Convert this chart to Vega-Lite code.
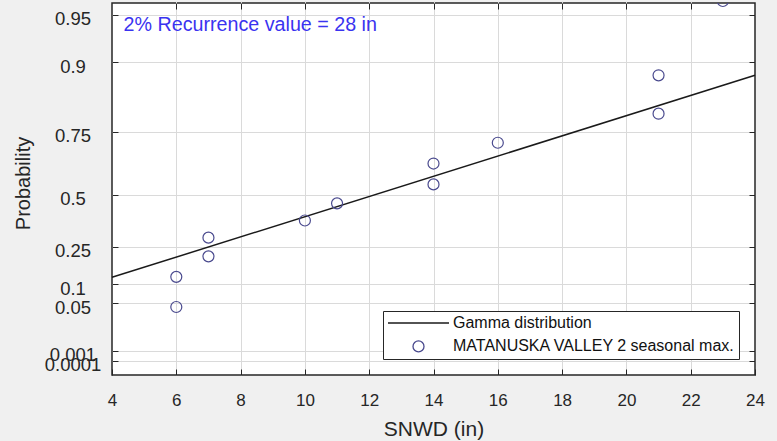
{
  "$schema": "https://vega.github.io/schema/vega-lite/v6.json",
  "width": 643,
  "height": 372,
  "autosize": {"type": "none"},
  "padding": {"left": 112, "top": 3, "right": 22, "bottom": 66},
  "background": "#f0f0f0",
  "config": {
    "view": {"fill": "white", "stroke": "#262626", "strokeWidth": 1.5},
    "font": "Liberation Sans",
    "axis": {
      "domain": false,
      "tickColor": "#262626",
      "tickSize": -6,
      "tickWidth": 1,
      "gridColor": "#dadada",
      "gridWidth": 1,
      "labelColor": "#262626",
      "titleColor": "#262626",
      "labelFont": "Liberation Sans",
      "titleFont": "Liberation Sans",
      "titleFontWeight": "normal"
    },
    "legend": {
      "orient": "bottom-right",
      "offset": 16,
      "strokeColor": "#262626",
      "fillColor": "white",
      "padding": 4,
      "cornerRadius": 0,
      "labelFont": "Liberation Sans",
      "labelFontSize": 16,
      "labelColor": "#111111",
      "labelLimit": 400,
      "labelOffset": 3,
      "symbolOffset": 0,
      "symbolStrokeWidth": 1.3,
      "clipHeight": 16,
      "rowPadding": 7.4
    }
  },
  "datasets": {
    "obs": [
      {"snwd": 6, "prob": 0.0462, "series": "MATANUSKA VALLEY 2 seasonal max."},
      {"snwd": 6, "prob": 0.1287, "series": "MATANUSKA VALLEY 2 seasonal max."},
      {"snwd": 7, "prob": 0.2112, "series": "MATANUSKA VALLEY 2 seasonal max."},
      {"snwd": 7, "prob": 0.2937, "series": "MATANUSKA VALLEY 2 seasonal max."},
      {"snwd": 10, "prob": 0.3762, "series": "MATANUSKA VALLEY 2 seasonal max."},
      {"snwd": 11, "prob": 0.4587, "series": "MATANUSKA VALLEY 2 seasonal max."},
      {"snwd": 14, "prob": 0.5413, "series": "MATANUSKA VALLEY 2 seasonal max."},
      {"snwd": 14, "prob": 0.6238, "series": "MATANUSKA VALLEY 2 seasonal max."},
      {"snwd": 16, "prob": 0.7063, "series": "MATANUSKA VALLEY 2 seasonal max."},
      {"snwd": 21, "prob": 0.7888, "series": "MATANUSKA VALLEY 2 seasonal max."},
      {"snwd": 21, "prob": 0.8713, "series": "MATANUSKA VALLEY 2 seasonal max."},
      {"snwd": 23, "prob": 0.9538, "series": "MATANUSKA VALLEY 2 seasonal max."}
    ],
    "fit": [
      {"snwd": 4, "prob": 0.1269, "series": "Gamma distribution"},
      {"snwd": 24, "prob": 0.8714, "series": "Gamma distribution"}
    ],
    "note": [
      {"label": "2% Recurrence value = 28 in"}
    ]
  },
  "resolve": {"axis": {"x": "independent", "y": "independent"}},
  "layer": [
    {
      "data": {"name": "fit"},
      "mark": {"type": "line", "strokeWidth": 1.5},
      "encoding": {
        "x": {
          "field": "snwd", "type": "quantitative",
          "scale": {"domain": [4, 24], "nice": false, "zero": false},
          "axis": {"orient": "top", "values": [6, 8, 10, 12, 14, 16, 18, 20, 22], "labels": false, "grid": true, "title": null}
        },
        "y": {
          "field": "prob", "type": "quantitative",
          "scale": {
            "type": "linear",
            "domain": [0.00001, 0.0001, 0.001, 0.05, 0.1, 0.25, 0.5, 0.75, 0.9, 0.95, 0.9538],
            "range": [372, 357.7, 347.7, 300.3, 281, 243.7, 191.8, 128.7, 59, 11.7, -2],
            "nice": false, "zero": false
          },
          "axis": {"orient": "right", "values": [0.0001, 0.001, 0.05, 0.1, 0.25, 0.5, 0.75, 0.9, 0.95], "labels": false, "grid": true, "title": null}
        },
        "color": {
          "field": "series", "type": "nominal",
          "scale": {"domain": ["Gamma distribution", "MATANUSKA VALLEY 2 seasonal max."], "range": ["#1a1a1a", "#4a4a8e"]},
          "legend": {"title": null}
        }
      }
    },
    {
      "data": {"name": "obs"},
      "mark": {"type": "point", "filled": false, "strokeWidth": 1.2, "opacity": 1, "clip": true},
      "encoding": {
        "x": {
          "field": "snwd", "type": "quantitative",
          "title": "SNWD (in)",
          "axis": {
            "orient": "bottom", "values": [4, 6, 8, 10, 12, 14, 16, 18, 20, 22, 24], "grid": false,
            "labelFontSize": 17, "labelPadding": 23.1, "labelFlush": false,
            "titleFontSize": 21, "titleBaseline": "alphabetic", "titleY": 60
          }
        },
        "y": {
          "field": "prob", "type": "quantitative",
          "title": "Probability",
          "axis": {
            "orient": "left", "values": [0.0001, 0.001, 0.05, 0.1, 0.25, 0.5, 0.75, 0.9, 0.95], "grid": false,
            "labelExpr": "'' + datum.value", "labelAlign": "center", "labelBaseline": "middle",
            "labelPadding": 45.5, "labelOffset": 4, "labelFontSize": 18.5, "labelOverlap": false,
            "titleFontSize": 20, "titleAngle": 270, "titleBaseline": "alphabetic", "titleAlign": "center",
            "titleX": -82.4, "titleY": 180
          }
        },
        "color": {"field": "series", "type": "nominal", "legend": {"title": null}},
        "shape": {
          "field": "series", "type": "nominal",
          "scale": {"domain": ["Gamma distribution", "MATANUSKA VALLEY 2 seasonal max."], "range": ["stroke", "circle"]},
          "legend": {"title": null}
        },
        "size": {
          "field": "series", "type": "nominal",
          "scale": {"type": "ordinal", "domain": ["Gamma distribution", "MATANUSKA VALLEY 2 seasonal max."], "range": [3721, 121]},
          "legend": {"title": null}
        }
      }
    },
    {
      "data": {"name": "note"},
      "mark": {"type": "text", "align": "left", "baseline": "alphabetic", "fontSize": 19.7, "color": "#3a33f0", "font": "Liberation Sans"},
      "encoding": {
        "x": {"datum": 4.36, "type": "quantitative", "axis": null},
        "y": {"datum": 0.933, "type": "quantitative", "axis": null},
        "text": {"field": "label", "type": "nominal"}
      }
    }
  ]
}
